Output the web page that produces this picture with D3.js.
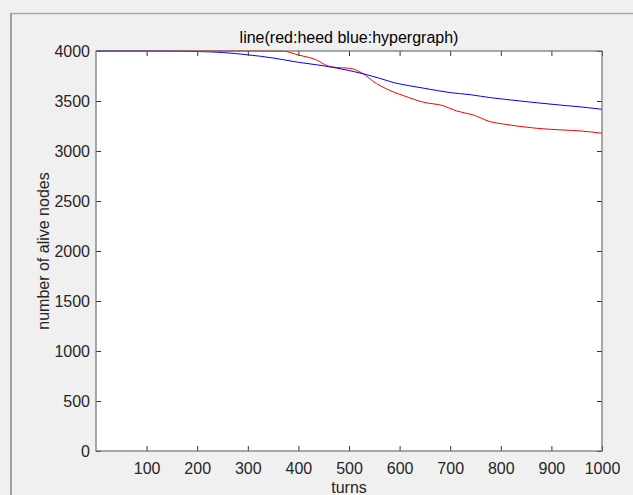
<!DOCTYPE html>
<html>
<head>
<meta charset="utf-8">
<script src="https://cdn.jsdelivr.net/npm/d3@7"></script>
<style>
	html, body { margin: 0; padding: 0; background: #f0f0f0; }
	svg { display: block; font-family: "Liberation Sans", Arial, sans-serif; }
</style>
</head>
<body>
<div id="chart"></div>
<script>
(function(){
	var W = 633, H = 495;
	var left = 96, right = 602, top = 51, bottom = 451;

	// data
	var heedTurns = [1, 100, 200, 300, 370, 400, 436, 456, 476, 502, 518, 532, 548, 561, 588, 607, 647, 686, 713, 746, 779, 805, 871, 923, 960, 1000];
	var heedAlive = [4000, 4000, 4000, 4000, 3998, 3960, 3910, 3855, 3835, 3827, 3800, 3760, 3695, 3655, 3590, 3555, 3488, 3453, 3400, 3360, 3293, 3270, 3227, 3210, 3200, 3177];
	var hyperTurns = [1, 100, 200, 250, 300, 350, 400, 450, 500, 530, 560, 590, 620, 650, 700, 740, 780, 820, 870, 920, 960, 1000];
	var hyperAlive = [4000, 4000, 3995, 3985, 3962, 3930, 3887, 3852, 3805, 3770, 3728, 3682, 3652, 3626, 3584, 3563, 3533, 3510, 3483, 3458, 3440, 3417];
	var xTicks = [100, 200, 300, 400, 500, 600, 700, 800, 900, 1000];
	var yTicks = [0, 500, 1000, 1500, 2000, 2500, 3000, 3500, 4000];

	var svg = d3.select("#chart")
				.append("svg")
				.attr("width", W)
				.attr("height", H);

	// window frame
	svg.append("line")
		.attr("x1", 11).attr("y1", 13.5).attr("x2", W).attr("y2", 13.5)
		.attr("stroke", "#a8a8a8").attr("stroke-width", 1.5);
	svg.append("line")
		.attr("x1", 11).attr("y1", 13).attr("x2", 11).attr("y2", H)
		.attr("stroke", "#a0a0a0").attr("stroke-width", 2);

	var x = d3.scaleLinear().domain([0, 1000]).range([left, right]);
	var y = d3.scaleLinear().domain([0, 4000]).range([bottom, top]);

	svg.append("rect")
		.attr("x", left).attr("y", top)
		.attr("width", right - left).attr("height", bottom - top)
		.attr("fill", "#fff");

	// 線
	function series(tt, vv){
		return tt.map(function(t, i){ return [t, vv[i]]; });
	}
	var line = d3.line()
				.x(function(d){ return x(d[0]); })
				.y(function(d){ return y(d[1]); })
				.curve(d3.curveMonotoneX);

	svg.append("path")
		.datum(series(heedTurns, heedAlive))
		.attr("d", line)
		.attr("fill", "none")
		.attr("stroke", "#ff0000")
		.attr("stroke-width", 1);
	svg.append("path")
		.datum(series(hyperTurns, hyperAlive))
		.attr("d", line)
		.attr("fill", "none")
		.attr("stroke", "#0000ff")
		.attr("stroke-width", 1);

	// axes (ticks inward, mirrored)
	var fontSize = "16px";
	var txt = "#262626";
	var fmt = d3.format("d");

	var gx = svg.append("g").attr("transform", "translate(0," + bottom + ")")
				.call(d3.axisBottom(x).tickValues(xTicks).tickFormat(fmt).tickSizeInner(-5).tickSizeOuter(0));
	var gxt = svg.append("g").attr("transform", "translate(0," + top + ")")
				.call(d3.axisTop(x).tickValues(xTicks).tickSizeInner(-5).tickSizeOuter(0).tickFormat(""));
	var gy = svg.append("g").attr("transform", "translate(" + left + ",0)")
				.call(d3.axisLeft(y).tickValues(yTicks).tickFormat(fmt).tickSizeInner(-5).tickSizeOuter(0).tickPadding(6));
	var gyr = svg.append("g").attr("transform", "translate(" + right + ",0)")
				.call(d3.axisRight(y).tickValues(yTicks).tickSizeInner(-5).tickSizeOuter(0).tickFormat(""));

	[gx, gxt, gy, gyr].forEach(function(g){
		g.select(".domain").remove();
		g.selectAll(".tick line").attr("stroke", "#333");
		g.selectAll("text")
			.attr("fill", txt)
			.style("font-size", fontSize)
			.style("font-family", "Liberation Sans, Arial, sans-serif");
	});
	gx.selectAll("text").attr("dy", null).attr("y", 23);

	// box
	svg.append("rect")
		.attr("x", left).attr("y", top)
		.attr("width", right - left).attr("height", bottom - top)
		.attr("fill", "none")
		.attr("stroke", "#707070")
		.attr("stroke-width", 1.2);

	// labels
	svg.append("text")
		.attr("x", (left + right) / 2).attr("y", 43)
		.attr("text-anchor", "middle")
		.attr("fill", "#000")
		.style("font-size", fontSize)
		.text("line(red:heed blue:hypergraph)");

	svg.append("text")
		.attr("x", (left + right) / 2).attr("y", 493)
		.attr("text-anchor", "middle")
		.attr("fill", txt)
		.style("font-size", fontSize)
		.text("turns");

	svg.append("text")
		.attr("transform", "translate(49," + ((top + bottom) / 2) + ") rotate(-90)")
		.attr("text-anchor", "middle")
		.attr("fill", txt)
		.style("font-size", fontSize)
		.text("number of alive nodes");
})();
</script>
</body>
</html>
